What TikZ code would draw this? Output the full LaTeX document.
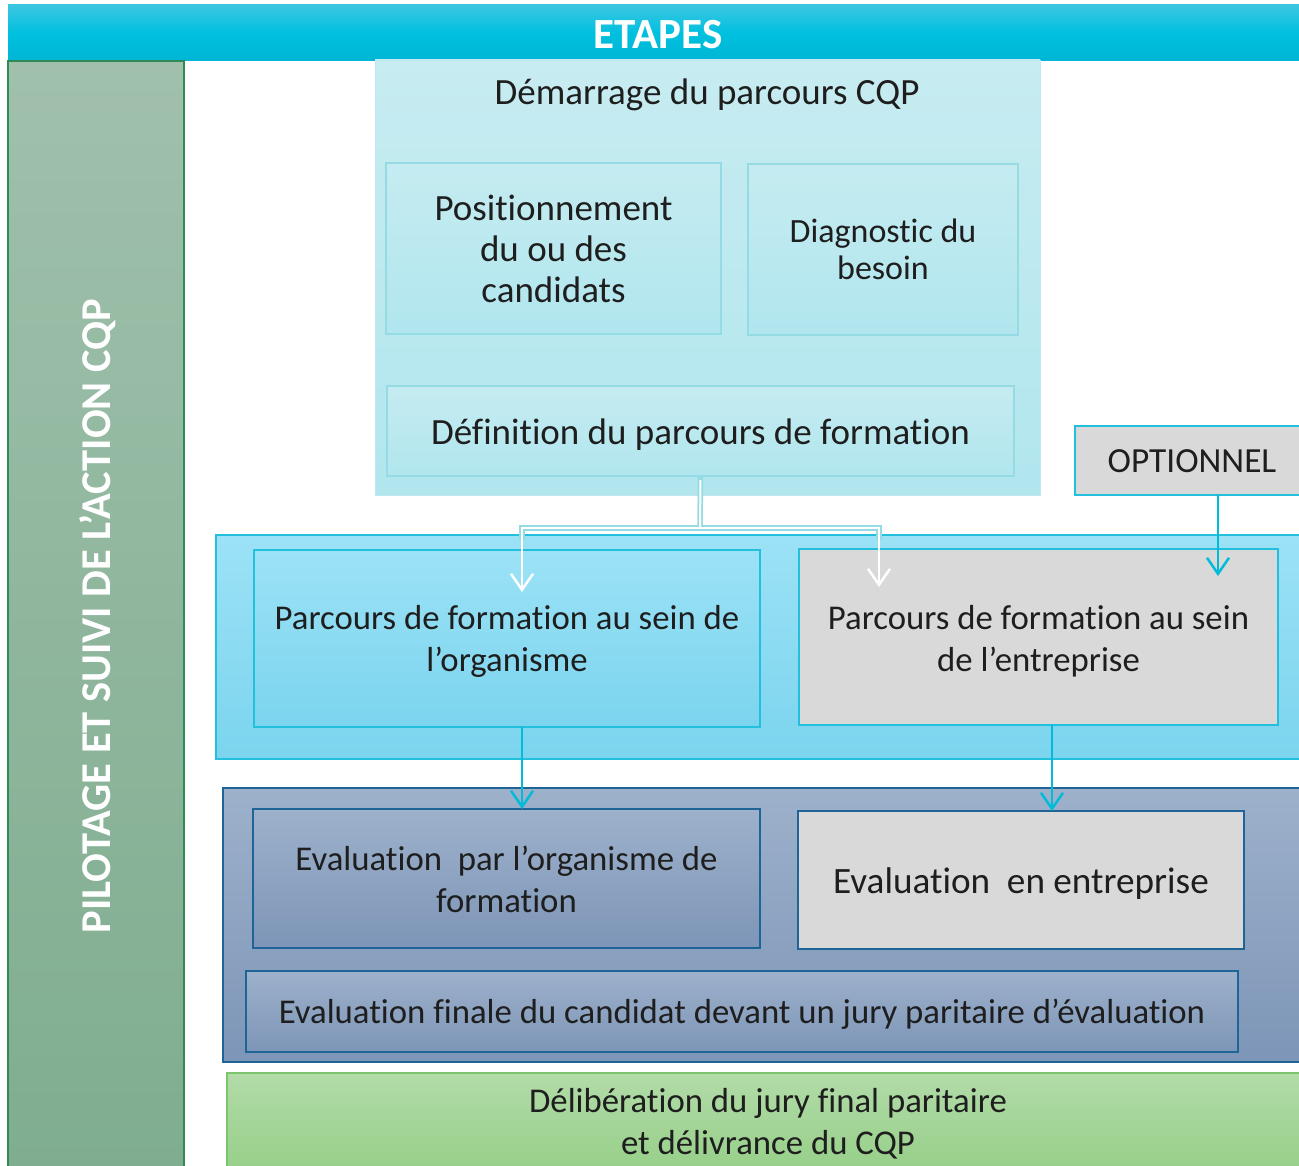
\documentclass[tikz,border=0pt]{standalone}
\usepackage{fontspec}
\setmainfont{Carlito}[Ligatures={NoCommon}]
\usetikzlibrary{arrows.meta}
\newcommand\dwn[2]{\raisebox{-#1}[\height][\depth]{#2}}
\definecolor{barT}{HTML}{3CC6E1}
\definecolor{barM}{HTML}{00C0DF}
\definecolor{barB}{HTML}{00B5D5}
\definecolor{leftT}{HTML}{A0C0AC}
\definecolor{leftB}{HTML}{7FAD8F}
\definecolor{leftD}{HTML}{2E8B57}
\definecolor{paleT}{HTML}{C7ECF1}
\definecolor{paleB}{HTML}{B1E6EE}
\definecolor{paleD}{HTML}{95DBE4}
\definecolor{blueT}{HTML}{9CE2F6}
\definecolor{blueB}{HTML}{7BD4EE}
\definecolor{blueD}{HTML}{22C0DC}
\definecolor{greyF}{HTML}{D9D9D9}
\definecolor{evT}{HTML}{9DB1CB}
\definecolor{evB}{HTML}{7D95B7}
\definecolor{evD}{HTML}{1F6496}
\definecolor{grT}{HTML}{B2DBA8}
\definecolor{grB}{HTML}{96CF88}
\definecolor{grD}{HTML}{7DC46E}
\definecolor{arrC}{HTML}{00BCD9}
\definecolor{txt}{HTML}{1E1E1E}
\begin{document}
\begin{tikzpicture}[x=1pt,y=-1pt,
  every node/.style={inner sep=0pt, outer sep=0pt, text=txt, align=center},
  big/.style={font=\fontsize{37}{41}\selectfont},
  mid/.style={font=\fontsize{34.75}{42}\selectfont},
  paleinner/.style={draw=paleD, line width=1.5pt, top color=paleT!90!paleB, bottom color=paleB},
  bluebox/.style={draw=blueD, line width=1.5pt, top color=blueT, bottom color=blueB},
  greybox/.style={draw=blueD, line width=1.5pt, fill=greyF},
  evbox/.style={draw=evD, line width=1.5pt, top color=evT, bottom color=evB},
  evgrey/.style={draw=evD, line width=1.5pt, fill=greyF},
  cyanarrow/.style={draw=arrC, line width=2.5pt, -{Straight Barb[length=16pt, width=22pt, line width=2.5pt]}},
  whiteout/.style={draw=paleD, line width=5.5pt},
  whitearrow/.style={draw=white, line width=2.5pt, -{Straight Barb[length=16pt, width=22pt, line width=2.5pt]}}
]
\clip (0,0) rectangle (1299,1166);
\fill[white] (0,0) rectangle (1299,1166);

% top bar
\node[anchor=north west, minimum width=1300pt, minimum height=56pt,
  top color=barT, bottom color=barB, middle color=barM,
  text=white, font=\fontsize{43}{46}\selectfont\bfseries] (etapes) at (8,5) {\dwn{2pt}{ETAPES}};

% left bar
\node[anchor=north west, minimum width=176pt, minimum height=1115pt,
  draw=leftD, line width=1.2pt, top color=leftT, bottom color=leftB] (bar) at (8,61) {};
\node[rotate=90, text=white, font=\fontsize{42.5}{46}\selectfont\bfseries] (pilot) at (98,616) {PILOTAGE ET SUIVI DE L’ACTION CQP};

% top panel
\node[anchor=north west, minimum width=665pt, minimum height=435pt,
  top color=paleT, bottom color=paleB, draw=paleT!80!paleD, line width=0.8pt] (demar) at (375,60) {};
\node[big] (titre) at (707,95) {Démarrage du parcours CQP};
\node[paleinner, big, minimum width=335pt, minimum height=171pt] (pos) at (553.5,248.5) {Positionnement\\du ou des\\candidats};
\node[paleinner, font=\fontsize{34}{37}\selectfont, minimum width=270pt, minimum height=171pt] (diag) at (883,249.5) {Diagnostic du\\besoin};
\node[paleinner, big, minimum width=627pt, minimum height=90pt] (defn) at (700.5,431) {\dwn{4pt}{Définition du parcours de formation}};

% optionnel
\node[greybox, font=\fontsize{35.3}{42}\selectfont, anchor=north west, minimum width=234pt, minimum height=69pt] (opt) at (1075,426) {\dwn{1pt}{OPTIONNEL}};

% blue panel
\node[anchor=north west, minimum width=1090pt, minimum height=224pt,
  draw=blueD, line width=1.2pt, top color=blueT, bottom color=blueB] (bluepanel) at (216,535) {};
\node[bluebox, mid, minimum width=506pt, minimum height=177pt] (org) at (507,638.5) {\dwn{3pt}{Parcours de formation au sein de}\\\dwn{3pt}{l’organisme}};
\node[greybox, mid, minimum width=479pt, minimum height=176pt] (ent) at (1038.5,637) {\dwn{4pt}{Parcours de formation au sein}\\\dwn{4pt}{de l’entreprise}};

% eval panel
\node[anchor=north west, minimum width=1090pt, minimum height=274pt,
  draw=evD, line width=1.2pt, top color=evT, bottom color=evB] (evpanel) at (223,788) {};
\node[evbox, mid, minimum width=507pt, minimum height=139pt] (ev1) at (506.5,878.5) {\dwn{1pt}{Evaluation\ \ par l’organisme de}\\\dwn{1pt}{formation}};
\node[evgrey, font=\fontsize{37.2}{42}\selectfont, minimum width=446pt, minimum height=138pt] (ev2) at (1021,880) {\dwn{4pt}{Evaluation\ \ en entreprise}};
\node[evbox, mid, minimum width=992pt, minimum height=81pt] (final) at (742,1011.5) {\dwn{3pt}{Evaluation finale du candidat devant un jury paritaire d’évaluation}};

% green
\node[anchor=north west, minimum width=1078pt, minimum height=100pt,
  draw=grD, line width=1.2pt, top color=grT, bottom color=grB] (green) at (227,1073) {};
\node[mid] (delib) at (768,1124) {Délibération du jury final paritaire\\et délivrance du CQP};

% connectors
\coordinate (j) at (700,528);
\coordinate (tipL) at (522,592);
\coordinate (tipR) at (879,587);
\draw[whiteout] (defn.south) -- (j);
\draw[whiteout] (522,540) |- (879,528) -- (879,540);
\draw[draw=white, line width=2pt] (defn.south) ++(0,4) -- (j);
\draw[whitearrow] (j) -| (tipL);
\draw[whitearrow] (j) -| (tipR);

\coordinate (tipO) at (1218,576);
\draw[cyanarrow] (opt.south -| tipO) -- (tipO);
\coordinate (xl) at (522,0);
\coordinate (xr) at (1052,0);
\draw[cyanarrow] (org.south -| xl) -- (ev1.north -| xl);
\draw[cyanarrow] (ent.south -| xr) -- (ev2.north -| xr);
\end{tikzpicture}
\end{document}
